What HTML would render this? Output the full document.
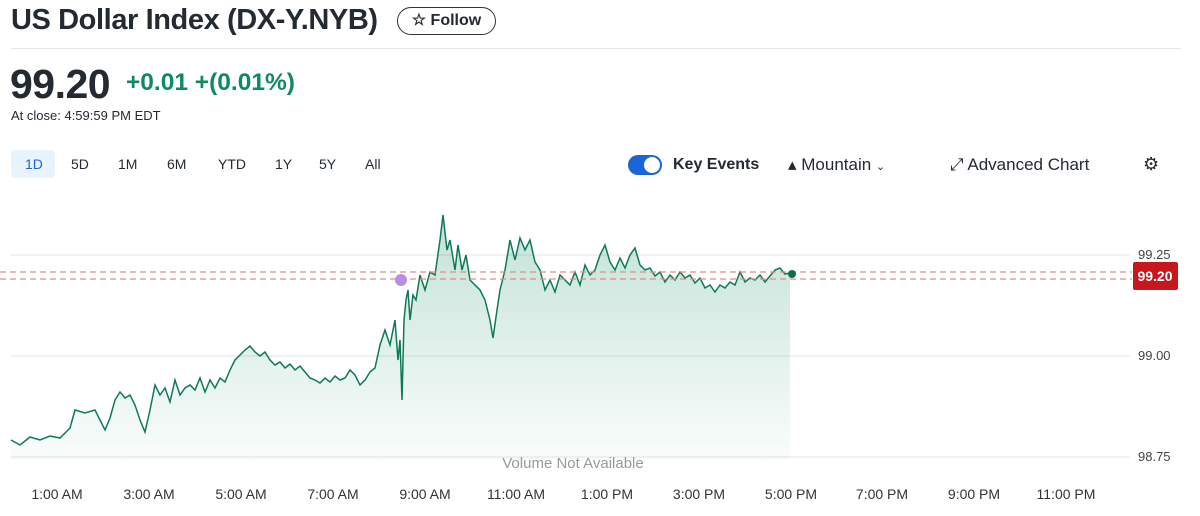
<!DOCTYPE html>
<html><head><style>
body{margin:0;width:1200px;height:516px;background:#fff;font-family:"Liberation Sans",sans-serif;color:#232a31;position:relative;overflow:hidden}
.a{position:absolute;white-space:nowrap}
</style></head><body>
<div class="a" style="left:11px;top:4px;font-size:29px;font-weight:bold;letter-spacing:-0.4px">US Dollar Index (DX-Y.NYB)</div>
<div class="a" style="left:397px;top:7px;width:97px;height:26px;border:1px solid #333;border-radius:14px;font-size:16px;font-weight:bold;line-height:26px;text-align:center">☆ Follow</div>
<div class="a" style="left:11px;top:48px;width:1170px;height:1px;background:#e6e6e6"></div>
<div class="a" style="left:10px;top:61px;font-size:41px;font-weight:bold;letter-spacing:-0.5px">99.20</div>
<div class="a" style="left:126px;top:69px;font-size:24.5px;font-weight:bold;color:#0e8a5f">+0.01 +(0.01%)</div>
<div class="a" style="left:11px;top:108px;font-size:13px">At close: 4:59:59 PM EDT</div>
<div class="a" style="left:11px;top:150px;width:44px;height:28px;background:#e9f3fc;border-radius:4px"></div>
<div class="a" style="left:25px;top:156px;font-size:14px;color:#1a66d6">1D</div>
<div class="a" style="left:71px;top:156px;font-size:14px">5D</div>
<div class="a" style="left:118px;top:156px;font-size:14px">1M</div>
<div class="a" style="left:167px;top:156px;font-size:14px">6M</div>
<div class="a" style="left:218px;top:156px;font-size:14px">YTD</div>
<div class="a" style="left:275px;top:156px;font-size:14px">1Y</div>
<div class="a" style="left:319px;top:156px;font-size:14px">5Y</div>
<div class="a" style="left:365px;top:156px;font-size:14px">All</div>
<div class="a" style="left:628px;top:155px;width:34px;height:20px;background:#1a66d6;border-radius:10px"><div style="position:absolute;right:2px;top:2px;width:16px;height:16px;border-radius:8px;background:#fff"></div></div>
<div class="a" style="left:673px;top:156px;font-size:16px;font-weight:bold">Key Events</div>
<div class="a" style="left:788px;top:155px;font-size:17px">▴ Mountain <span style="font-size:11px">⌄</span></div>
<div class="a" style="left:950px;top:155px;font-size:17px">⤢ Advanced Chart</div>
<div class="a" style="left:1143px;top:154px;font-size:18px">⚙</div>
<svg class="a" style="left:0;top:0" width="1200" height="516">
<defs><linearGradient id="g" x1="0" y1="0" x2="0" y2="1"><stop offset="0" stop-color="#0e8a5f" stop-opacity="0.25"/><stop offset="1" stop-color="#0e8a5f" stop-opacity="0.02"/></linearGradient></defs>
<line x1="11" y1="255" x2="1130" y2="255" stroke="#e3e3e3"/>
<line x1="11" y1="356" x2="1130" y2="356" stroke="#e3e3e3"/>
<line x1="11" y1="457" x2="1130" y2="457" stroke="#e3e3e3"/>
<polygon fill="url(#g)" points="11,460 11,440 20,445 30,437 40,440 50,436 60,438 70,428 75,410 85,413 95,410 100,420 105,430 110,418 115,400 120,392 125,398 130,395 135,405 140,420 145,432 150,410 155,385 160,395 165,388 170,402 175,380 180,395 185,388 190,385 195,390 200,378 205,392 210,380 215,388 220,378 225,382 230,370 235,360 240,355 245,350 250,346 255,352 260,356 265,352 270,360 275,365 280,362 285,368 290,364 295,370 300,366 305,372 310,378 315,380 320,383 325,378 330,382 335,376 340,380 345,378 350,370 355,375 360,385 365,380 370,372 375,368 380,345 385,330 390,345 395,320 398,360 400,340 402,400 404,320 406,300 408,290 410,320 413,295 416,300 420,275 425,290 430,272 435,275 440,240 443,215 447,250 450,240 455,270 458,245 462,270 466,255 470,280 475,285 480,290 485,300 490,320 493,338 497,310 500,290 505,270 510,240 515,260 520,238 525,250 530,240 535,262 540,270 545,290 550,280 555,292 560,275 565,280 570,285 575,272 580,285 585,265 590,275 595,270 600,255 605,245 610,262 615,270 620,258 625,268 630,255 635,248 640,265 645,270 650,268 655,276 660,272 665,282 670,275 675,280 680,272 685,278 690,275 695,283 700,278 705,288 710,285 715,292 720,285 725,288 730,282 735,285 740,272 745,282 750,278 755,280 760,275 765,282 770,276 775,270 780,268 785,274 790,273 790,460"/>
<polyline fill="none" stroke="#0e7a55" stroke-width="1.5" points="11,440 20,445 30,437 40,440 50,436 60,438 70,428 75,410 85,413 95,410 100,420 105,430 110,418 115,400 120,392 125,398 130,395 135,405 140,420 145,432 150,410 155,385 160,395 165,388 170,402 175,380 180,395 185,388 190,385 195,390 200,378 205,392 210,380 215,388 220,378 225,382 230,370 235,360 240,355 245,350 250,346 255,352 260,356 265,352 270,360 275,365 280,362 285,368 290,364 295,370 300,366 305,372 310,378 315,380 320,383 325,378 330,382 335,376 340,380 345,378 350,370 355,375 360,385 365,380 370,372 375,368 380,345 385,330 390,345 395,320 398,360 400,340 402,400 404,320 406,300 408,290 410,320 413,295 416,300 420,275 425,290 430,272 435,275 440,240 443,215 447,250 450,240 455,270 458,245 462,270 466,255 470,280 475,285 480,290 485,300 490,320 493,338 497,310 500,290 505,270 510,240 515,260 520,238 525,250 530,240 535,262 540,270 545,290 550,280 555,292 560,275 565,280 570,285 575,272 580,285 585,265 590,275 595,270 600,255 605,245 610,262 615,270 620,258 625,268 630,255 635,248 640,265 645,270 650,268 655,276 660,272 665,282 670,275 675,280 680,272 685,278 690,275 695,283 700,278 705,288 710,285 715,292 720,285 725,288 730,282 735,285 740,272 745,282 750,278 755,280 760,275 765,282 770,276 775,270 780,268 785,274 790,273"/>
<line x1="0" y1="272" x2="1132" y2="272" stroke="#d98f8f" stroke-dasharray="6,4" stroke-width="1.3"/>
<line x1="0" y1="279" x2="1132" y2="279" stroke="#d98f8f" stroke-dasharray="6,4" stroke-width="1.3"/>
<circle cx="401" cy="280" r="6" fill="#b98ee0"/>
<circle cx="792" cy="274" r="4" fill="#0e6e4c"/>
<rect x="1133" y="262" width="45" height="28" rx="2" fill="#c8161d"/>
<text x="1155" y="281" fill="#fff" font-size="14" font-weight="bold" text-anchor="middle" font-family="Liberation Sans">99.20</text>
<g font-size="13" fill="#444" font-family="Liberation Sans">
<text x="1138" y="259">99.25</text><text x="1138" y="360">99.00</text><text x="1138" y="461">98.75</text>
</g>
<text x="573" y="468" font-size="15" fill="#999" text-anchor="middle" font-family="Liberation Sans">Volume Not Available</text>
<g font-size="14" fill="#333" text-anchor="middle" font-family="Liberation Sans">
<text x="57" y="499">1:00 AM</text><text x="149" y="499">3:00 AM</text><text x="241" y="499">5:00 AM</text><text x="333" y="499">7:00 AM</text><text x="425" y="499">9:00 AM</text><text x="516" y="499">11:00 AM</text><text x="607" y="499">1:00 PM</text><text x="699" y="499">3:00 PM</text><text x="791" y="499">5:00 PM</text><text x="882" y="499">7:00 PM</text><text x="974" y="499">9:00 PM</text><text x="1066" y="499">11:00 PM</text>
</g>
</svg>
</body></html>
